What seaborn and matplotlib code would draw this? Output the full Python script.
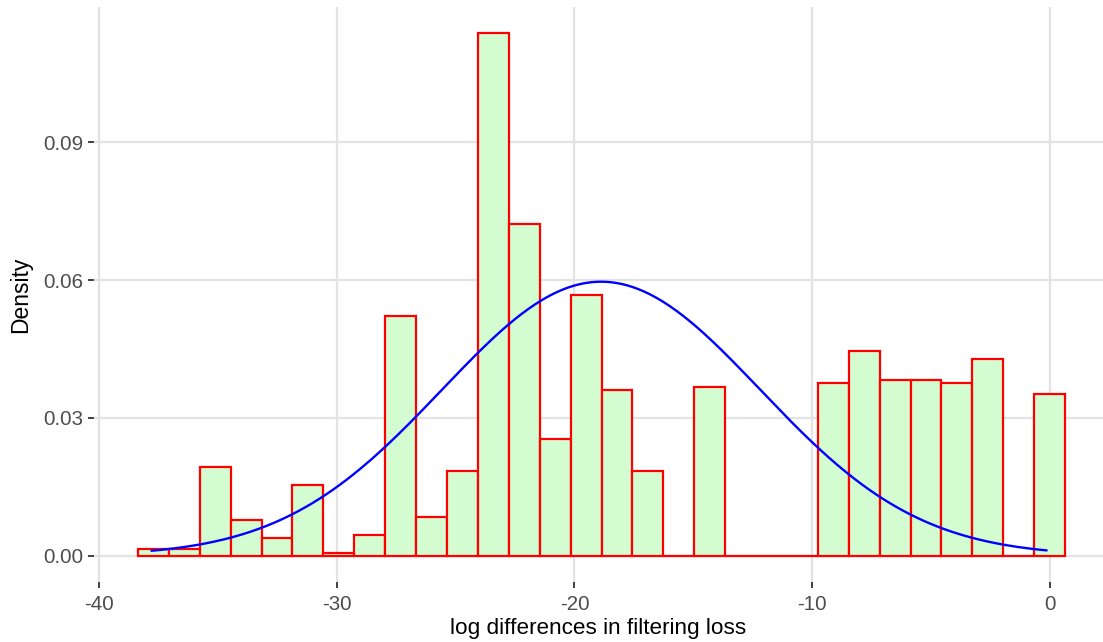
import numpy as np
import pandas as pd
import matplotlib
matplotlib.use("Agg")
import matplotlib.pyplot as plt
import seaborn as sns

# ---- data ----
bin_left = -38.37
bin_width = 1.3005
densities = [0.0015, 0.0015, 0.0193, 0.0077, 0.0038, 0.0153, 0.0007, 0.0046,
             0.0522, 0.0085, 0.0185, 0.1137, 0.0722, 0.0254, 0.0567, 0.0361,
             0.0185, 0.0, 0.0367, 0.0, 0.0, 0.0, 0.0377, 0.0445,
             0.0383, 0.0383, 0.0377, 0.0429, 0.0, 0.0353]
norm_mean = -18.88
norm_sd = 6.69
curve_range = [-37.8, -0.13]
x_ticks = [-40, -30, -20, -10, 0]
y_ticks = [0.00, 0.03, 0.06, 0.09]
y_tick_labels = ["0.00", "0.03", "0.06", "0.09"]
x_label = "log differences in filtering loss"
y_label = "Density"

n = len(densities)
edges = bin_left + bin_width * np.arange(n + 1)
centers = (edges[:-1] + edges[1:]) / 2
df = pd.DataFrame({"x": centers, "w": densities})

xc = np.linspace(curve_range[0], curve_range[1], 400)
yc = np.exp(-0.5 * ((xc - norm_mean) / norm_sd) ** 2) / (norm_sd * np.sqrt(2 * np.pi))
curve = pd.DataFrame({"x": xc, "y": yc})

sns.set_theme(style="white")
plt.rcParams["font.family"] = ["Liberation Sans", "DejaVu Sans"]

W, H = 1103, 642
fig = plt.figure(figsize=(W / 100, H / 100), dpi=100)
L, R, T, B = 94, 1103, 7, 582
ax = fig.add_axes([L / W, (H - B) / H, (R - L) / W, (B - T) / H])

sns.histplot(data=df, x="x", weights="w", binwidth=bin_width,
             binrange=(float(edges[0]), float(edges[-1])), stat="count",
             color="#D3FCD0", edgecolor="#FF0000", linewidth=1.6, alpha=1.0, ax=ax)
sns.lineplot(data=curve, x="x", y="y", color="#0000FF", linewidth=1.7, ax=ax)

ax.set_xlim(-40.22, 2.24)
ax.set_ylim(-0.0057, 0.1194)
ax.set_xticks(x_ticks)
ax.set_xticklabels([str(t) for t in x_ticks])
ax.set_yticks(y_ticks)
ax.set_yticklabels(y_tick_labels)

ax.grid(True, color="#E3E3E3", linewidth=1.6)
ax.set_axisbelow(True)
for s in ax.spines.values():
    s.set_visible(False)

ax.tick_params(axis="both", which="major", length=4.5, width=1.3, color="#333333",
               labelcolor="#4D4D4D", labelsize=14.8, pad=3, bottom=True, left=True)
ax.tick_params(axis="x", pad=5)
ax.set_xlabel(x_label, fontsize=16.2, color="black", labelpad=3)
ax.set_ylabel(y_label, fontsize=16.5, color="black", labelpad=8)

fig.savefig("out.png", dpi=100)
